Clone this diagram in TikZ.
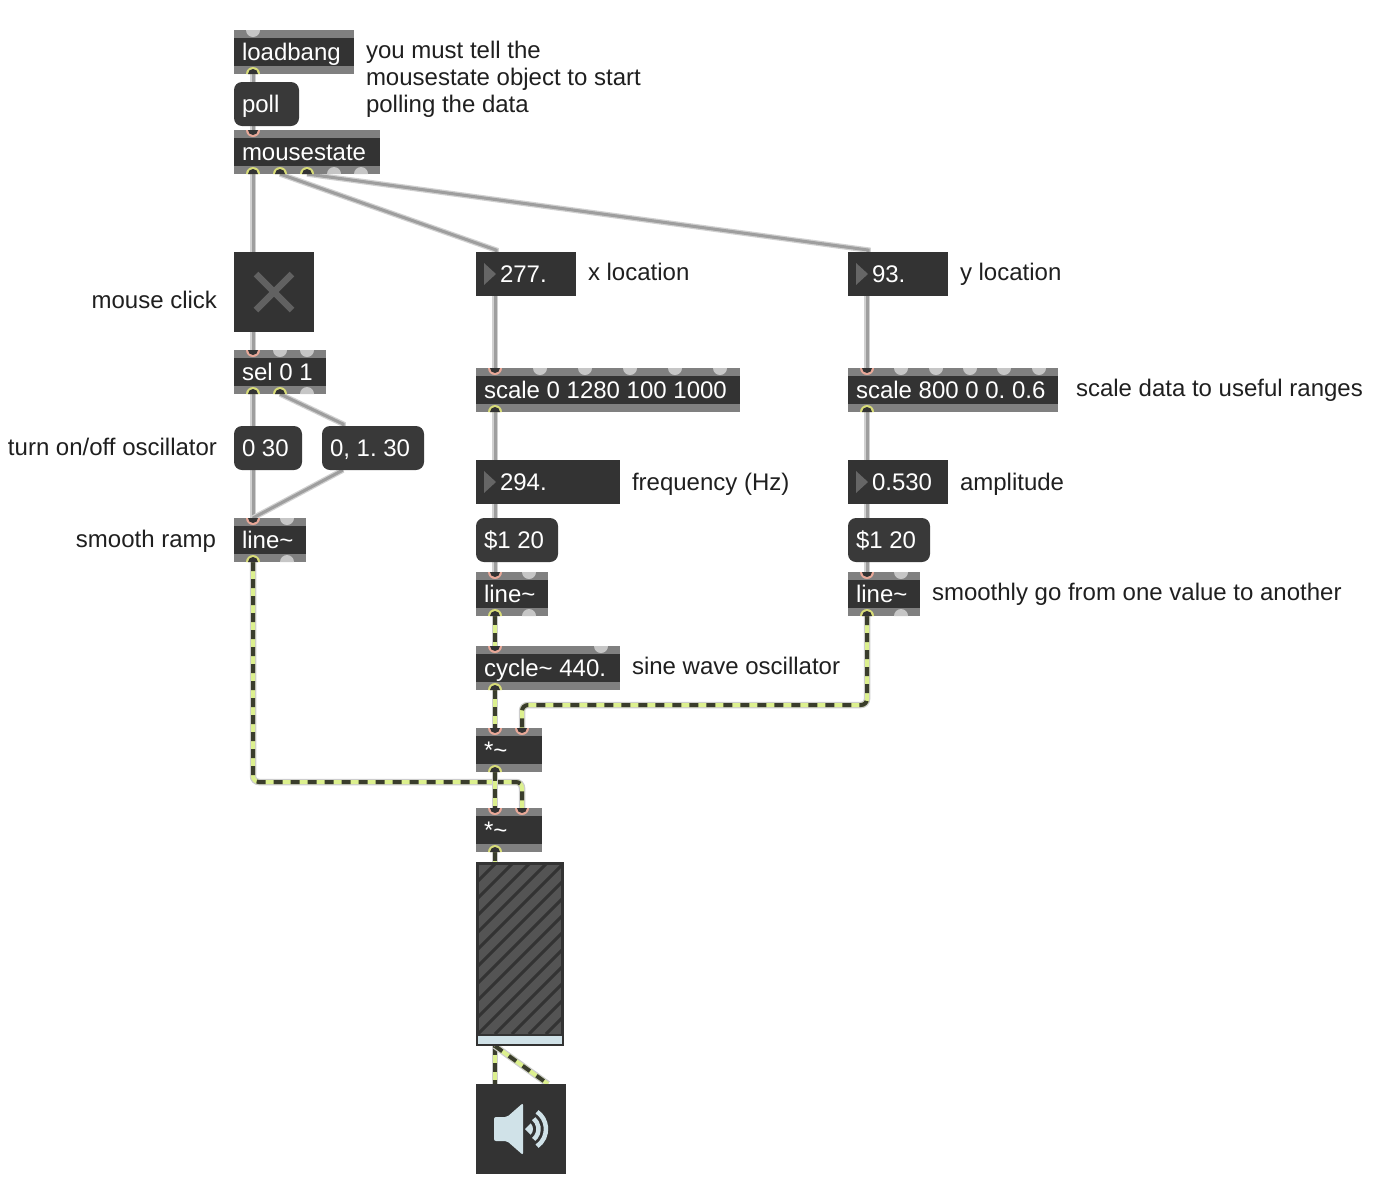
\documentclass[tikz,border=0pt]{standalone}
\usepackage{fontspec}
\setmainfont{Liberation Sans}
\usepackage{tikz}
\usetikzlibrary{positioning,shapes.geometric,backgrounds}
\definecolor{boxdark}{HTML}{333333}
\definecolor{barcol}{HTML}{808080}
\definecolor{idlecol}{HTML}{C6C6C6}
\definecolor{hotin}{HTML}{E8A898}
\definecolor{hotout}{HTML}{D8DC78}
\definecolor{lightblue}{HTML}{D0E2E8}
\definecolor{limecol}{HTML}{DCF08E}
\definecolor{dashcol}{HTML}{3A3D2C}
\newcommand{\boxspaces}{\spaceskip 6.67pt\relax\xspaceskip 6.67pt\relax}
\tikzset{
  txt/.style={font=\fontsize{24}{27}\selectfont, inner sep=0pt, outer sep=0pt},
  lab/.style={txt, text=black!88, text height=20pt, text depth=4pt, anchor=west},
  labr/.style={lab, anchor=east},
  plain/.style={txt, text=white, text height=20pt, text depth=4pt, execute at begin node=\boxspaces,
    inner xsep=8pt, align=left, minimum height=44pt, anchor=north west, minimum width=#1pt, text width=#1pt-16pt},
  obj/.style={plain=#1, fill=barcol, path picture={
    \fill[boxdark] ([yshift=-8pt]path picture bounding box.north west) rectangle ([yshift=8pt]path picture bounding box.south east);}},
  msg/.style={plain=#1, fill=boxdark!97!white, rounded corners=8pt},
  numbox/.style={plain=#1, fill=boxdark, execute at begin node=\boxspaces\hspace*{16pt}, path picture={
    \fill[black!60] ([shift={(8pt,11pt)}]path picture bounding box.west) -- ([shift={(20pt,0pt)}]path picture bounding box.west)
      -- ([shift={(8pt,-11pt)}]path picture bounding box.west) -- cycle;}},
  port/.style={semicircle, minimum width=14pt, inner sep=0pt, outer sep=0pt, anchor=chord center},
  idlei/.style={port, shape border rotate=180, fill=idlecol},
  idleo/.style={port, fill=idlecol},
  hoti/.style={idlei, fill=hotin, path picture={\fill[boxdark] (path picture bounding box.north) circle (5pt);}},
  hoto/.style={idleo, fill=hotout, path picture={\fill[boxdark] (path picture bounding box.south) circle (5pt);}},
  patch/.style={draw=black!18, line width=5.5pt, postaction={draw=black!38, line width=3pt}},
  signal/.style={draw=black!20, line width=6.5pt, rounded corners=6pt, postaction={draw=limecol, line width=4pt},
    postaction={draw=dashcol, line width=4pt, dash pattern=on 9pt off 8pt}}
}
\begin{document}
\begin{tikzpicture}[x=1pt,y=-1pt]
\useasboundingbox (0,0) rectangle (1388,1200);
% left column
\node[obj=120] (lb) at (234,30) {loadbang};
\node[msg=65] (poll) at (234,82) {poll};
\node[obj=146] (ms) at (234,130) {mousestate};
\node[plain=80, fill=boxdark, minimum height=80pt, path picture={
  \draw[black!62, line width=6.5pt] ([shift={(22pt,-22pt)}]path picture bounding box.north west) -- ([shift={(-22pt,22pt)}]path picture bounding box.south east);
  \draw[black!62, line width=6.5pt] ([shift={(22pt,22pt)}]path picture bounding box.south west) -- ([shift={(-22pt,-22pt)}]path picture bounding box.north east);}] (tog) at (234,252) {};
\node[obj=92] (sel) at (234,350) {sel 0 1};
\node[msg=68] (off) at (234,426) {0 30};
\node[msg=102] (on) at (322,426) {0, 1. 30};
\node[obj=72] (ramp) at (234,518) {line\char`~};
% middle column
\node[numbox=100] (xloc) at (476,252) {277.};
\node[obj=264] (xscale) at (476,368) {scale 0 1280 100 1000};
\node[numbox=144] (freq) at (476,460) {294.};
\node[msg=82] (fmsg) at (476,518) {\$1 20};
\node[obj=72] (fline) at (476,572) {line\char`~};
\node[obj=144] (osc) at (476,646) {cycle\char`~{} 440.};
\node[obj=66] (mula) at (476,728) {*\char`~};
\node[obj=66] (mulb) at (476,808) {*\char`~};
\node[draw=boxdark, line width=3pt, fill=black!67, minimum width=85pt, minimum height=181pt, inner sep=0pt, anchor=north west] (gain) at (476,862) {};
\node[fill=boxdark, minimum size=90pt, inner sep=0pt, anchor=north west] (dac) at (476,1084) {};
% right column
\node[numbox=100] (yloc) at (848,252) {93.};
\node[obj=210] (yscale) at (848,368) {scale 800 0 0. 0.6};
\node[numbox=100] (amp) at (848,460) {0.530};
\node[msg=82] (amsg) at (848,518) {\$1 20};
\node[obj=72] (aline) at (848,572) {line\char`~};
% ports
\node[idlei] (lb-i) at (253,30) {};
\node[hoto] (lb-o) at (253,74) {};
\node[hoti] (ms-i) at (253,130) {};
\node[hoto] (ms-o1) at (253,174) {};
\node[hoto] (ms-o2) at (280,174) {};
\node[hoto] (ms-o3) at (307,174) {};
\node[idleo] (ms-o4) at (334,174) {};
\node[idleo] (ms-o5) at (361,174) {};
\node[hoti] (sel-i) at (253,350) {};
\node[idlei] (sel-i2) at (280,350) {};
\node[idlei] (sel-i3) at (307,350) {};
\node[hoto] (sel-o1) at (253,394) {};
\node[hoto] (sel-o2) at (280,394) {};
\node[idleo] (sel-o3) at (307,394) {};
\node[hoti] (ramp-i) at (253,518) {};
\node[idlei] (ramp-i2) at (287,518) {};
\node[hoto] (ramp-o) at (253,562) {};
\node[idleo] (ramp-o2) at (287,562) {};
\node[hoti] (xscale-i) at (495,368) {};
\foreach \px in {540,585,630,675,720} \node[idlei] at (\px,368) {};
\node[hoto] (xscale-o) at (495,412) {};
\node[hoti] (fline-i) at (495,572) {};
\node[idlei] (fline-i2) at (529,572) {};
\node[hoto] (fline-o) at (495,616) {};
\node[idleo] (fline-o2) at (529,616) {};
\node[hoti] (osc-i) at (495,646) {};
\node[idlei] (osc-i2) at (601,646) {};
\node[hoto] (osc-o) at (495,690) {};
\node[hoti] (mula-i1) at (495,728) {};
\node[hoti] (mula-i2) at (522,728) {};
\node[hoto] (mula-o) at (495,772) {};
\node[hoti] (mulb-i1) at (495,808) {};
\node[hoti] (mulb-i2) at (522,808) {};
\node[hoto] (mulb-o) at (495,852) {};
\node[hoti] (yscale-i) at (867,368) {};
\foreach \px in {901,936,970,1004,1039} \node[idlei] at (\px,368) {};
\node[hoto] (yscale-o) at (867,412) {};
\node[hoti] (aline-i) at (867,572) {};
\node[idlei] (aline-i2) at (901,572) {};
\node[hoto] (aline-o) at (867,616) {};
\node[idleo] (aline-o2) at (901,616) {};
% free wire ends
\coordinate (tog-i) at (253,252);
\coordinate (xloc-i) at (496,252);
\coordinate (xloc-o) at (495,296);
\coordinate (yloc-i) at (868,252);
\coordinate (yloc-o) at (867,296);
\coordinate (on-i) at (343,427);
\coordinate (on-o) at (343,470);
\coordinate (gain-i) at (495,864);
\coordinate (gain-o) at (495,1046);
\coordinate (dac-l) at (495,1084);
\coordinate (dac-r) at (548,1084);
% meter stripes and speaker
\begin{scope}
\clip (479,865) rectangle (561,1034);
\foreach \s in {0,17,...,374} \draw[boxdark, line width=3pt] (308+\s,1034) -- (478+\s,864);
\end{scope}
\fill[boxdark] (478,1034) rectangle (562,1036);
\fill[lightblue] (478,1036) rectangle (562,1044);
\fill[lightblue, rounded corners=2pt] (494,1117) -- (507,1117) -- (523,1103) -- (523,1155) -- (507,1141) -- (494,1141) -- cycle;
\fill[lightblue] (525,1129) -- ++(-45:8) arc[start angle=45,end angle=-45,radius=8pt] -- cycle;
\draw[lightblue, line width=4.5pt] (525,1129) ++(50:13.5) arc[start angle=-50,end angle=50,radius=13.5pt];
\draw[lightblue, line width=4.5pt] (525,1129) ++(55:21) arc[start angle=-55,end angle=55,radius=21pt];
% wires
\begin{scope}[on background layer]
\draw[patch] (lb-o.chord center) -- (ms-i.chord center);
\draw[patch] (ms-o1.chord center) -- (tog-i);
\draw[patch] (tog.south -| tog-i) -- (sel-i.chord center);
\draw[patch] (ms-o2.chord center) -- (496,250) -- (xloc-i);
\draw[patch] (ms-o3.chord center) -- (868,250) -- (yloc-i);
\draw[patch] (sel-o1.chord center) -- (ramp-i.chord center);
\draw[patch] (sel-o2.chord center) -- (343,424) -- (on-i);
\draw[patch] (on-o) -- (ramp-i.chord center);
\draw[patch] (xloc-o) -- (xscale-i.chord center);
\draw[patch] (yloc-o) -- (yscale-i.chord center);
\draw[patch] (xscale-o.chord center) -- (fline-i.chord center);
\draw[patch] (yscale-o.chord center) -- (aline-i.chord center);
\draw[signal] (ramp-o.chord center) -- (253,782) -- (522,782) -- (mulb-i2.chord center);
\draw[signal] (fline-o.chord center) -- (osc-i.chord center);
\draw[signal] (osc-o.chord center) -- (mula-i1.chord center);
\draw[signal] (aline-o.chord center) -- (867,705) -- (522,705) -- (mula-i2.chord center);
\draw[signal] (mula-o.chord center) -- (mulb-i1.chord center);
\draw[signal] (mulb-o.chord center) -- (gain-i);
\draw[signal] (gain-o) -- (dac-l);
\draw[signal] (gain-o) -- (dac-r);
\end{scope}
% comments
\node[txt, text=black!88, align=left, anchor=north west] (hint) at (366,41) {you must tell the\\mousestate object to start\\polling the data};
\node[labr] (click) at (217,300) {mouse click};
\node[labr] (onoff) at (217,447) {turn on/off oscillator};
\node[labr] (smooth) at (216,539) {smooth ramp};
\node[lab] (xlab) at (588,272) {x location};
\node[lab] (ylab) at (960,272) {y location};
\node[lab] (scalelab) at (1076,388) {scale data to useful ranges};
\node[lab] (freqlab) at (632,482) {frequency (Hz)};
\node[lab] (amplab) at (960,482) {amplitude};
\node[lab] (linelab) at (932,592) {smoothly go from one value to another};
\node[lab] (osclab) at (632,666) {sine wave oscillator};
\end{tikzpicture}
\end{document}
